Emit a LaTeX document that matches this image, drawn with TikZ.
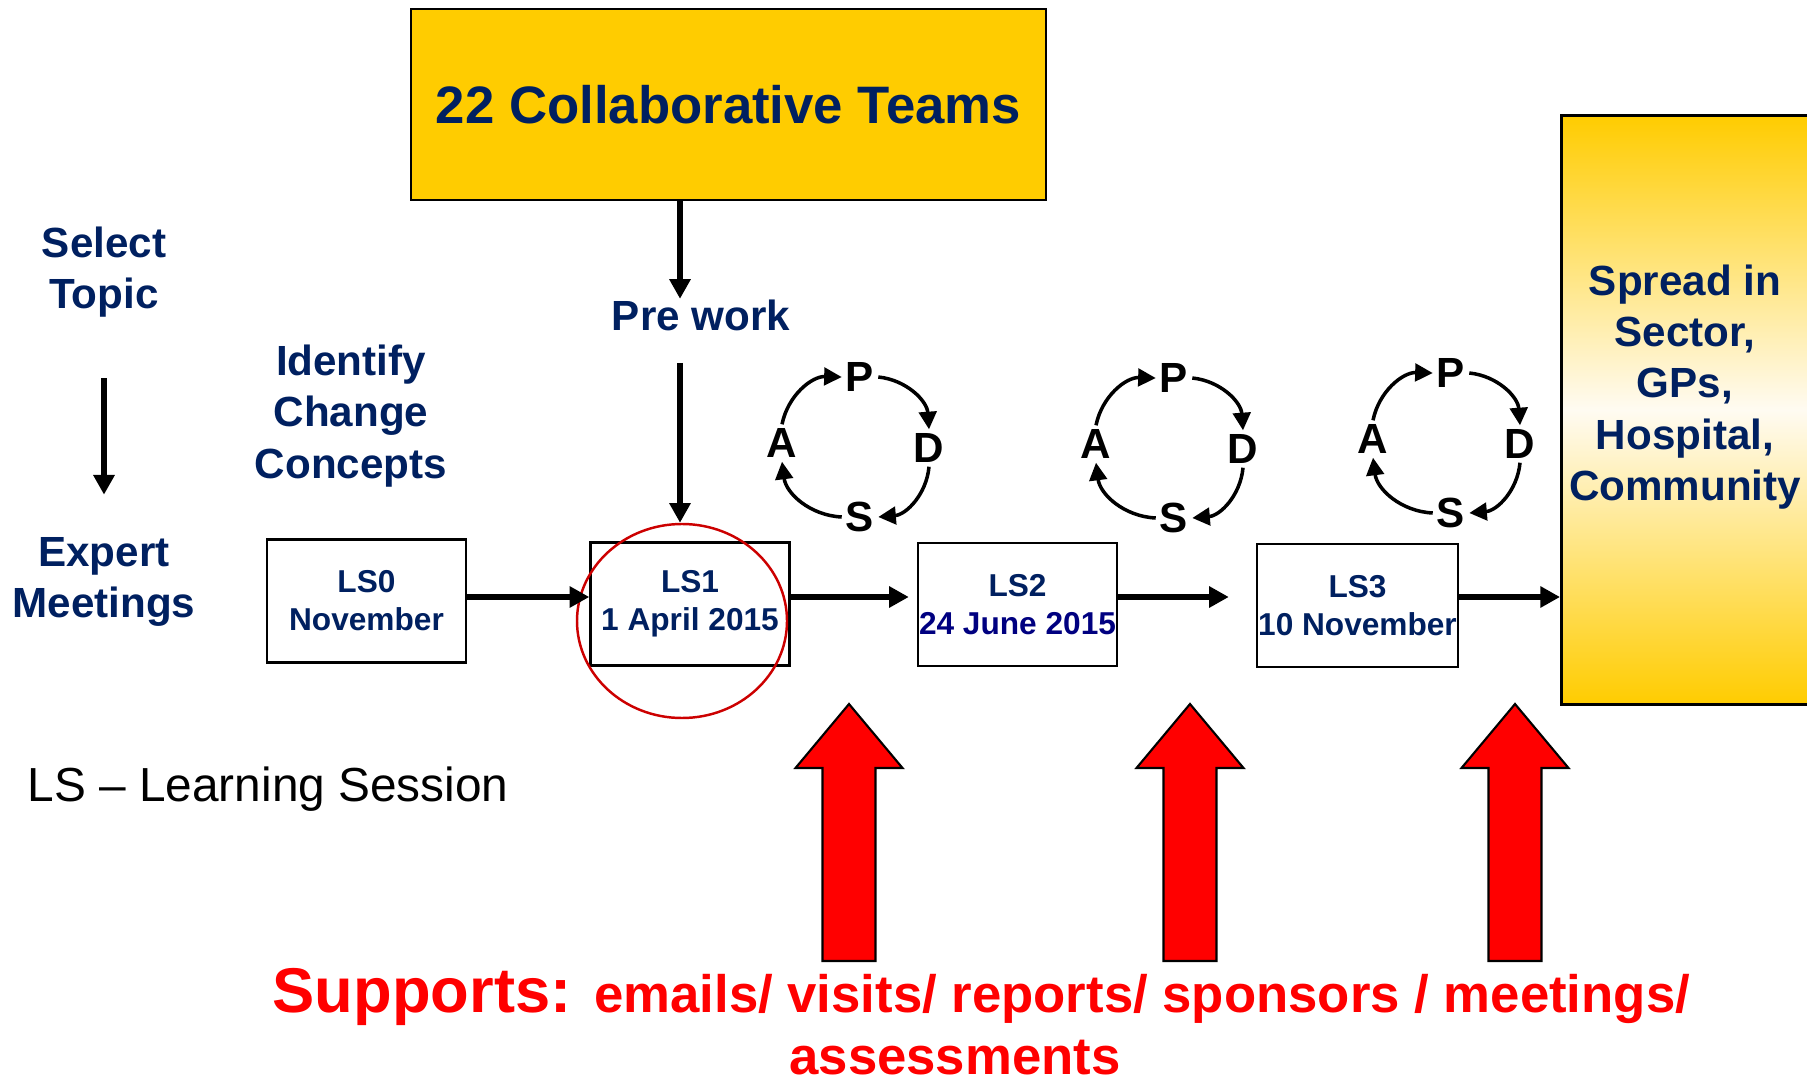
\documentclass[tikz,border=0pt]{standalone}
\usepackage{fontspec}
\setmainfont{Liberation Sans}
\usetikzlibrary{arrows.meta,positioning,shapes.geometric}
\definecolor{navy}{RGB}{0,32,96}
\definecolor{darknavy}{RGB}{0,0,128}
\definecolor{gold}{RGB}{255,204,0}
\definecolor{spreadmid}{RGB}{255,251,242}
\definecolor{ringred}{RGB}{204,0,0}

\tikzset{
  arr/.style={line width=1.5pt,-{Triangle[length=5.6pt,width=5.8pt]}},
  cyc/.style={line width=1pt,-{Triangle[length=5pt,width=5pt]},bend left=40},
  lbl/.style={font=\fontsize{12}{14.6}\selectfont\bfseries,text=navy,align=center,inner sep=0pt},
  lsbox/.style={draw,line width=0.7pt,minimum width=1.99cm,minimum height=1.23cm,inner sep=0pt,
    font=\fontsize{9}{10.8}\selectfont\bfseries,text=navy,align=center},
  pdsa/.style={font=\fontsize{12}{14}\selectfont\bfseries,inner sep=1pt},
}

\begin{document}
\begin{tikzpicture}
  \useasboundingbox (0,0) rectangle (18.07,-10.86);
  \clip (0,0) rectangle (18.07,-10.86);

  % teams and pre work
  \node[draw,fill=gold,line width=0.6pt,minimum width=6.35cm,minimum height=1.91cm,
    font=\fontsize{15}{18}\selectfont\bfseries,text=navy] (teams) at (7.285,-1.045) {22 Collaborative Teams};
  \node[lbl] (prework) at (7.01,-3.15) {Pre work};
  \coordinate (drop) at (6.80,-3.63);
  \coordinate (flow) at (0,-5.97);

  % left column
  \node[lbl] (select) at (1.04,-2.72) {Select\\Topic};
  \node[lbl] (expert) at (1.04,-5.82) {Expert\\Meetings};
  \node[lbl] (identify) at (3.51,-4.16) {Identify\\Change\\Concepts};
  \draw[arr,shorten <=0.6cm,shorten >=0.42cm] (select) -- (expert);

  % learning sessions
  \node[lsbox] (ls0) at (3.665,-6.01) {LS0\\November};
  \node[lsbox] (ls1) at (6.90,-6.04) {LS1\\1 April 2015};
  \node[lsbox] (ls2) at (10.175,-6.045) {LS2\\\textcolor{darknavy}{24 June 2015}};
  \node[lsbox,minimum width=2.01cm] (ls3) at (13.575,-6.055) {LS3\\10 November};
  \node[draw=ringred,ellipse,line width=0.7pt,minimum width=2.10cm,minimum height=1.94cm] (ring) at (6.82,-6.21) {};

  % spread box
  \node[draw,line width=0.8pt,anchor=north west,minimum width=2.8cm,minimum height=5.89cm,
    top color=gold,bottom color=gold,middle color=spreadmid] (spread) at (15.60,-1.14) {};
  \node[lbl] (spreadtxt) at (16.85,-3.87) {Spread in\\Sector,\\GPs,\\Hospital,\\Community};

  \draw[arr] (teams.south -| drop) -- (prework.north -| drop);
  \draw[arr] (drop) -- (drop |- ring.north);
  \draw[arr] (ls0.east |- flow) -- (ls1.west |- flow);
  \draw[arr,shorten >=0.08cm] (ls1.east |- flow) -- (ls2.west |- flow);
  \draw[arr,shorten >=0.27cm] (ls2.east |- flow) -- (ls3.west |- flow);
  \draw[arr] (ls3.east |- flow) -- (spread.west |- flow);

  % PDSA cycles
  \foreach \px/\py/\n in {8.60/-3.77/one, 11.74/-3.78/two, 14.51/-3.73/three}{
    \node[pdsa] (\n P) at (\px,\py) {P};
    \node[pdsa] (\n D) at (\px+0.69,\py-0.71) {D};
    \node[pdsa] (\n S) at (\px,\py-1.40) {S};
    \node[pdsa] (\n A) at (\px-0.78,\py-0.66) {A};
    \draw[cyc] (\n P.east) to (\n D.north);
    \draw[cyc] (\n D.south) to (\n S.east);
    \draw[cyc] (\n S.west) to (\n A.south);
    \draw[cyc] (\n A.north) to (\n P.west);
  }

  % support arrows
  \foreach \x in {8.49,11.90,15.15}
    \draw[fill=red,line width=0.6pt] (\x,-7.04) -- (\x+0.535,-7.68) -- (\x+0.265,-7.68) -- (\x+0.265,-9.61)
      -- (\x-0.265,-9.61) -- (\x-0.265,-7.68) -- (\x-0.535,-7.68) -- cycle;

  \node[anchor=west,inner sep=0pt,font=\fontsize{13.6}{16}\selectfont] (legend) at (0.27,-7.89) {LS – Learning Session};
  \node[anchor=base west,inner sep=0pt,text=red,font=\bfseries] (supports) at (2.72,-10.12)
    {\fontsize{18}{21}\selectfont Supports:\hspace{6.5pt}\fontsize{15}{18}\selectfont emails/ visits/ reports/ sponsors / meetings/};
  \node[anchor=base,inner sep=0pt,text=red,font=\fontsize{15}{18}\selectfont\bfseries] (assess) at (9.55,-10.74) {assessments};
\end{tikzpicture}
\end{document}
